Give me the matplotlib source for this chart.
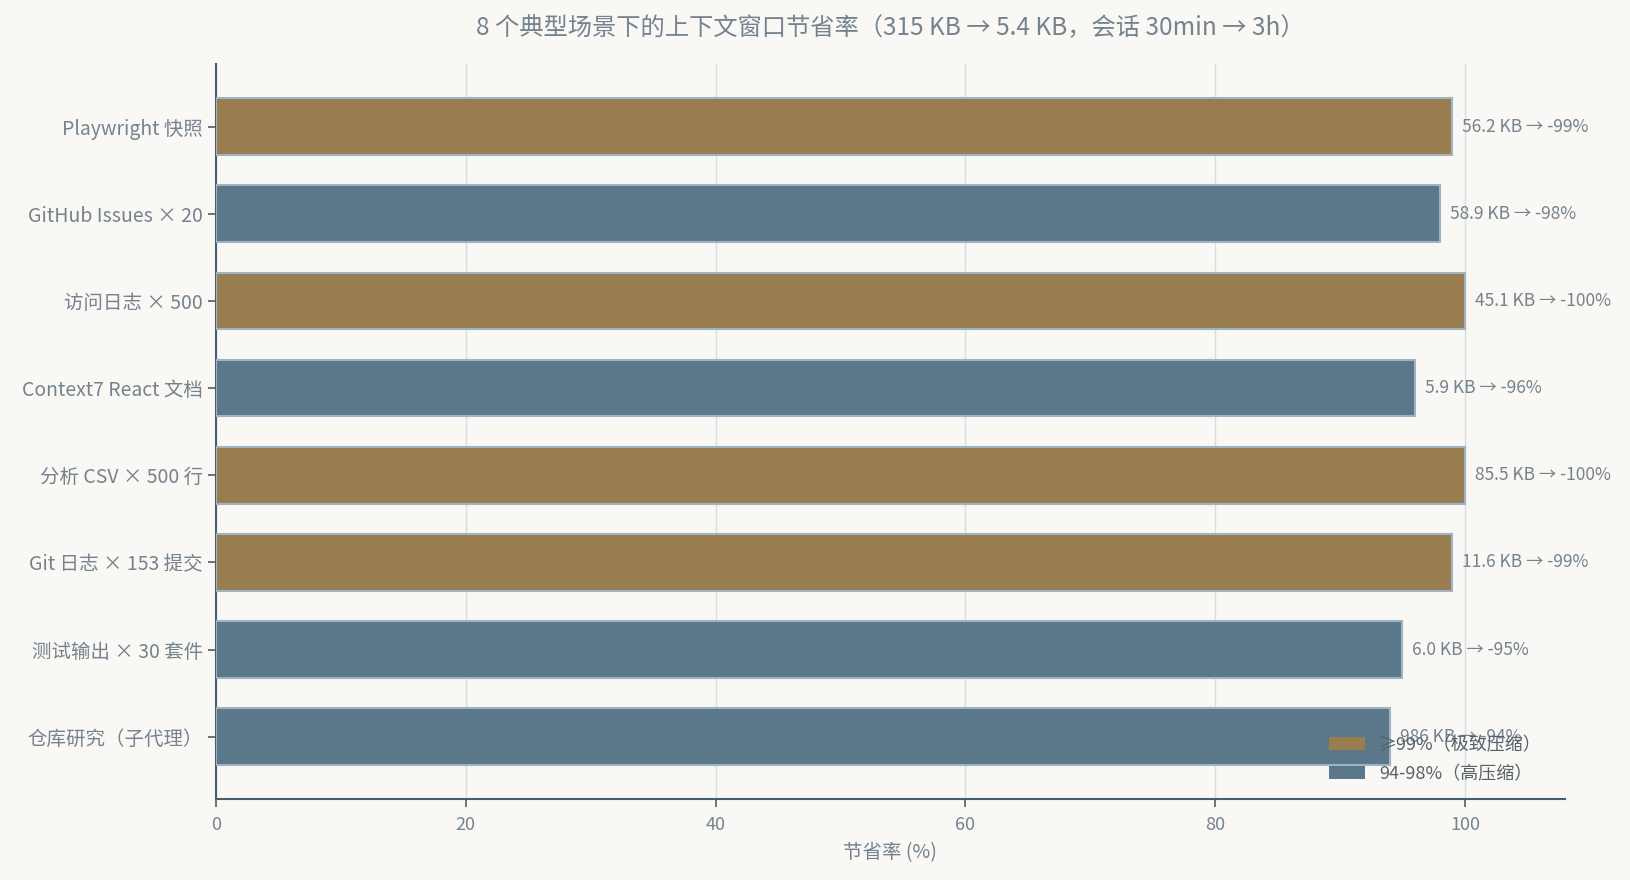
import matplotlib.pyplot as plt
from matplotlib.patches import Patch

plt.rcParams["font.family"] = ["Noto Sans CJK SC", "DejaVu Sans"]

# data, top to bottom
scenarios = [
    "Playwright 快照",
    "GitHub Issues × 20",
    "访问日志 × 500",
    "Context7 React 文档",
    "分析 CSV × 500 行",
    "Git 日志 × 153 提交",
    "测试输出 × 30 套件",
    "仓库研究（子代理）",
]
savings = [99, 98, 100, 96, 100, 99, 95, 94]
raw_sizes = ["56.2 KB", "58.9 KB", "45.1 KB", "5.9 KB", "85.5 KB", "11.6 KB", "6.0 KB", "986 KB"]

BG = "#f9f8f4"
TXT = "#75828f"
C_HI = "#9a7d4e"
C_MID = "#5b788b"

fig, ax = plt.subplots(figsize=(16.3, 8.8), dpi=100)
fig.patch.set_facecolor(BG)
ax.set_facecolor(BG)

ys = list(range(len(scenarios)))[::-1]
colors = [C_HI if s >= 99 else C_MID for s in savings]
ax.barh(ys, savings, height=0.65, color=colors, edgecolor="#9fb3c4", linewidth=1.5, zorder=3)

for y, s, raw in zip(ys, savings, raw_sizes):
    ax.text(s + 0.8, y, f"{raw} → -{s}%", va="center", ha="left",
            fontsize=12.5, color=TXT, fontweight=300, zorder=4)

ax.set_yticks(ys)
ax.set_yticklabels(scenarios, fontsize=14, color=TXT, fontweight=300)
ax.set_xlim(0, 108)
ax.set_ylim(-0.716, len(scenarios) - 1 + 0.716)
ax.set_xticks([0, 20, 40, 60, 80, 100])
ax.tick_params(axis="x", labelsize=13, colors=TXT, length=6, width=1.2, pad=6)
ax.tick_params(axis="y", colors=TXT, length=6, width=1.2)
for lbl in ax.get_xticklabels():
    lbl.set_fontweight(300)
ax.tick_params(axis="both", color="#4a5e70")

ax.grid(axis="x", color="#d5dfe6", linewidth=1, zorder=0)
ax.set_axisbelow(True)
for side in ("top", "right"):
    ax.spines[side].set_visible(False)
for side in ("left", "bottom"):
    ax.spines[side].set_color("#4a5e70")
    ax.spines[side].set_linewidth(1.5)

ax.set_xlabel("节省率 (%)", fontsize=14, color=TXT, fontweight=300, labelpad=6)
ax.set_title("8 个典型场景下的上下文窗口节省率（315 KB → 5.4 KB，会话 30min → 3h）",
             fontsize=17.5, color=TXT, fontweight=300, pad=21)

handles = [Patch(facecolor=C_HI, label="≥99%（极致压缩）"),
           Patch(facecolor=C_MID, label="94-98%（高压缩）")]
leg = ax.legend(handles=handles, loc="lower right", frameon=False, fontsize=13,
                handlelength=2.0, handleheight=0.75, labelspacing=0.6,
                bbox_to_anchor=(0.995, 0.0))
for t in leg.get_texts():
    t.set_color("#56616c")
    t.set_fontweight(300)

fig.subplots_adjust(left=0.1325, right=0.96, top=0.927, bottom=0.092)
fig.savefig("out.png", dpi=100, facecolor=BG)
